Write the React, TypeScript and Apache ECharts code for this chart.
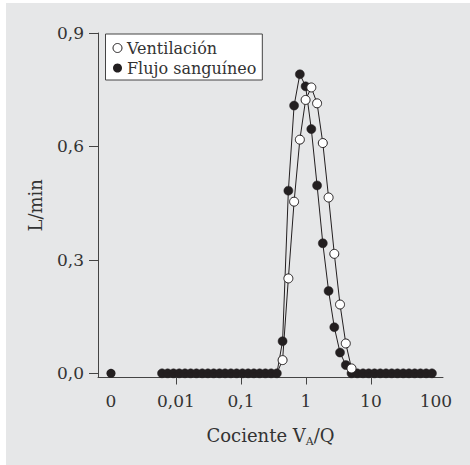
import React, { useEffect, useRef } from 'react';
import * as echarts from 'echarts';

// V_A/Q compartments (log-spaced)
const vaqRatios = [
  0.0061, 0.00746, 0.00916, 0.01122, 0.01377, 0.01687, 0.02065, 0.02535,
  0.03105, 0.0381, 0.0467, 0.0571, 0.0701, 0.0859, 0.1054, 0.1291,
  0.1581, 0.1941, 0.2377, 0.2917, 0.3573, 0.4375, 0.537, 0.658,
  0.807, 0.989, 1.211, 1.486, 1.82, 2.234, 2.735, 3.35,
  4.111, 5.035, 6.18, 7.57, 9.27, 11.38, 13.93, 17.1,
  20.94, 25.64, 31.48, 38.55, 47.32, 57.94, 70.96, 87.1,
];

// L/min
const ventilacion = [
  0, 0, 0, 0, 0, 0, 0, 0, 0, 0, 0, 0, 0, 0, 0, 0, 0, 0, 0, 0, 0,
  0.035, 0.251, 0.454, 0.618, 0.723, 0.756, 0.714, 0.609, 0.465, 0.316, 0.182, 0.079, 0.013,
  0, 0, 0, 0, 0, 0, 0, 0, 0, 0, 0, 0, 0, 0,
];
const flujoSanguineo = [
  0, 0, 0, 0, 0, 0, 0, 0, 0, 0, 0, 0, 0, 0, 0, 0, 0, 0, 0, 0, 0,
  0.085, 0.483, 0.708, 0.791, 0.759, 0.646, 0.497, 0.344, 0.218, 0.122, 0.055, 0.022,
  0, 0, 0, 0, 0, 0, 0, 0, 0, 0, 0, 0, 0, 0, 0,
];

// shunt compartment (V_A/Q = 0), drawn at the "0" label position
const shuntPosition = 0.001;
const shuntFlujo = 0;

const xLabelValues = [0.001, 0.01, 0.1, 1, 10, 100];
const xLabelTexts = ['0', '0,01', '0,1', '1', '10', '100'];
const xTickValues = [0.01, 0.1, 1, 10];
const yTickValues = [0, 0.3, 0.6, 0.9];

const FONT = 'DejaVu Serif';
const INK = '#231f20';
const TEXT = '#333333';

export default function App() {
  const ref = useRef<HTMLDivElement>(null);
  useEffect(() => {
    if (!ref.current) return;
    const chart = echarts.init(ref.current, null, { renderer: 'svg' });
    const lg = (v: number) => Math.log10(v);
    const labelMap: Record<string, string> = {};
    xLabelValues.forEach((v, i) => {
      labelMap[lg(v).toFixed(3)] = xLabelTexts[i];
    });
    const ventData = vaqRatios.map((r, i) => [lg(r), ventilacion[i]]);
    const flujoData = vaqRatios.map((r, i) => [lg(r), flujoSanguineo[i]]);

    chart.setOption({
      animation: false,
      backgroundColor: '#ffffff',
      graphic: [
        {
          type: 'rect',
          z: -10,
          silent: true,
          shape: { x: 6, y: 3, width: 464, height: 462 },
          style: { fill: '#e6e7e8' },
        },
      ],
      grid: { left: 98, right: 27, top: 33, bottom: 87.5, containLabel: false },
      legend: {
        data: [
          {
            name: 'Ventilación',
            icon: 'circle',
            itemStyle: { color: '#ffffff', borderColor: INK, borderWidth: 1 },
          },
          {
            name: 'Flujo sanguíneo',
            icon: 'circle',
            itemStyle: { color: INK, borderColor: INK, borderWidth: 0 },
          },
        ],
        orient: 'vertical',
        left: 105.5,
        top: 34,
        backgroundColor: '#ffffff',
        borderColor: '#444',
        borderWidth: 1,
        borderRadius: 0,
        padding: [6, 6, 4, 7],
        itemGap: 4,
        itemWidth: 9,
        itemHeight: 9,
        textStyle: { fontFamily: FONT, fontSize: 16, color: TEXT },
      },
      xAxis: {
        type: 'value',
        min: -3.2,
        max: 2.11,
        name: 'Cociente V{sub|A}/Q',
        nameLocation: 'middle',
        nameGap: 47,
        nameTextStyle: {
          fontFamily: FONT,
          fontSize: 18,
          color: TEXT,
          rich: {
            sub: { fontFamily: FONT, fontSize: 11, color: TEXT, padding: [11, 0, 0, 0] },
          },
        },
        splitLine: { show: false },
        axisLine: { onZero: false, lineStyle: { color: '#444', width: 1 } },
        axisTick: {
          show: true,
          inside: false,
          length: 7,
          lineStyle: { color: '#444' },
          customValues: xTickValues.map(lg),
        },
        axisLabel: {
          fontFamily: FONT,
          fontSize: 17,
          color: TEXT,
          margin: 15,
          customValues: xLabelValues.map(lg),
          formatter: (v: number) => labelMap[v.toFixed(3)] ?? '',
        },
      },
      yAxis: {
        type: 'value',
        min: -0.011,
        max: 0.9,
        name: 'L/min',
        nameLocation: 'middle',
        nameGap: 54,
        nameTextStyle: { fontFamily: FONT, fontSize: 18, color: TEXT },
        splitLine: { show: false },
        axisLine: { show: true, onZero: false, lineStyle: { color: '#444', width: 1 } },
        axisTick: {
          show: true,
          length: 9,
          lineStyle: { color: '#444' },
          customValues: yTickValues,
        },
        axisLabel: {
          fontFamily: FONT,
          fontSize: 17,
          color: TEXT,
          margin: 14,
          customValues: yTickValues,
          formatter: (v: number) => v.toFixed(1).replace('.', ','),
        },
      },
      series: [
        {
          name: 'Flujo sanguíneo',
          type: 'line',
          data: flujoData,
          symbol: 'circle',
          symbolSize: 9,
          itemStyle: { color: INK, borderColor: INK, borderWidth: 0.5 },
          lineStyle: { color: INK, width: 1 },
          z: 2,
        },
        {
          name: 'Ventilación',
          type: 'line',
          data: ventData,
          symbol: 'circle',
          symbolSize: (v: number[]) => (v[1] === 0 ? 0 : 9),
          itemStyle: { color: '#ffffff', borderColor: INK, borderWidth: 1 },
          lineStyle: { color: INK, width: 1 },
          z: 3,
        },
        {
          name: 'Shunt',
          type: 'scatter',
          data: [[lg(shuntPosition), shuntFlujo]],
          symbol: 'circle',
          symbolSize: 9,
          itemStyle: { color: INK, opacity: 1 },
          z: 2,
        },
      ],
    });
    return () => chart.dispose();
  }, []);
  return (
    <div
      ref={ref}
      style={{ position: 'absolute', left: 0, top: 0, width: 470, height: 465 }}
    />
  );
}
